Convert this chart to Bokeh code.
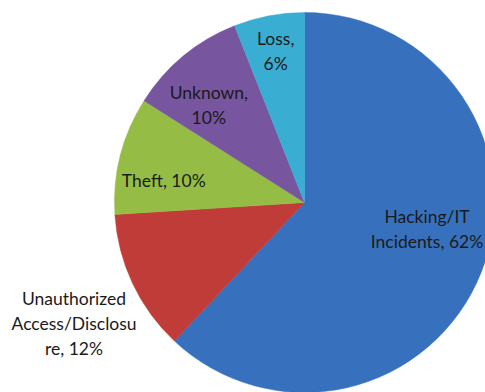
import math
from bokeh.plotting import figure
from bokeh.models import Range1d, ColumnDataSource
from bokeh.core.properties import value
from bokeh.embed import file_html
from bokeh.resources import INLINE

categories = ["Hacking/IT Incidents", "Unauthorized Access/Disclosure", "Theft", "Unknown", "Loss"]
shares = [62, 12, 10, 10, 6]
label_texts = ["Hacking/IT\nIncidents, 62%", "Unauthorized\nAccess/Disclosu\nre, 12%",
               "Theft, 10%", "Unknown,\n10%", "Loss,\n6%"]
colors = ["#3771BE", "#C03C38", "#95BD46", "#77559F", "#3AADD2"]

# layout (not data)
W, H = 485, 392
CX, CY, R = 304, H - 202, 190
label_r = [0.66, 1.37, 0.75, 0.72, 0.81]
label_nudge = [9.3, 2.5, 5.4, 4.8, 0.0]  # degrees

total = float(sum(shares))
starts, ends, lx, ly = [], [], [], []
cum = 0.0
for i, s in enumerate(shares):
    a0 = math.pi / 2 - 2 * math.pi * cum / total
    cum += s
    a1 = math.pi / 2 - 2 * math.pi * cum / total
    starts.append(a0)
    ends.append(a1)
    mid = (a0 + a1) / 2 + math.radians(label_nudge[i])
    lx.append(CX + label_r[i] * R * math.cos(mid))
    ly.append(CY + label_r[i] * R * math.sin(mid))

src = ColumnDataSource(dict(cat=categories, share=shares, start=starts, end=ends,
                            color=colors, x=[CX] * 5, y=[CY] * 5))
lsrc = ColumnDataSource(dict(x=lx, y=ly, text=label_texts))

p = figure(width=W, height=H, output_backend="svg", toolbar_location=None,
           x_range=Range1d(0, W), y_range=Range1d(0, H), min_border=0)
p.axis.visible = False
p.grid.visible = False
p.outline_line_color = None
p.background_fill_color = "white"

p.wedge(x="x", y="y", radius=R, start_angle="start", end_angle="end", direction="clock",
        fill_color="color", line_color="color", line_width=0.5, source=src)

p.text(x="x", y="y", text="text", source=lsrc, text_align="center", text_baseline="middle",
       text_font=value("Lato"), text_font_size="17.5px", text_color="#1a1a1a",
       text_line_height=1.2)

open("out.html", "w").write(file_html(p, INLINE))
